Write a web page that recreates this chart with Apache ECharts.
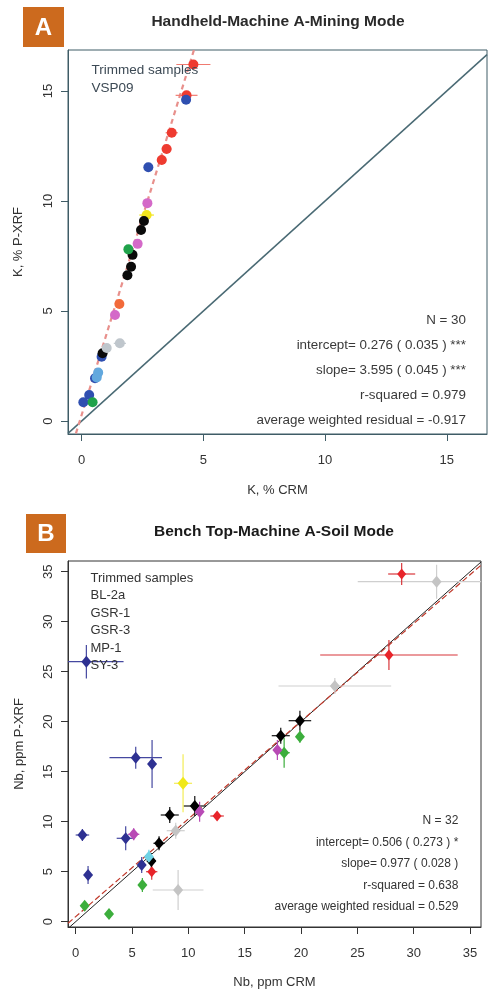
<!DOCTYPE html>
<html><head><meta charset="utf-8">
<script src="https://cdn.jsdelivr.net/npm/echarts@6/dist/echarts.min.js"></script>
<style>html,body{margin:0;padding:0;background:#fff}#c{width:489px;height:991px}</style>
</head><body><div id="c"></div>
<script>
// ---------- Panel A: K, % (x = CRM, y = P-XRF, xErr, yErr) ----------
const aRed = [[4.59,16.2,0.7,0.2],[4.31,14.8,0.45,0.2],[3.70,13.1,0.25,0.2],[3.49,12.36,0.2,0.2],[3.29,11.86,0.2,0.2]];
const aOrange = [[1.55,5.32,0.15,0.15]];
const aBlue = [[4.29,14.6,0.1,0.1],[2.74,11.53,0.1,0.1],[0.82,2.92,0.1,0.1],[0.55,1.94,0.1,0.1],[0.31,1.18,0.1,0.1],[0.07,0.85,0.1,0.1]];
const aMagenta = [[2.70,9.9,0.1,0.1],[2.30,8.05,0.1,0.1],[1.37,4.82,0.1,0.1]];
const aYellow = [[2.67,9.36,0.3,0.1]];
const aBlack = [[2.56,9.09,0.1,0.1],[2.44,8.68,0.1,0.1],[2.09,7.55,0.1,0.1],[2.03,7.01,0.1,0.1],[1.88,6.62,0.1,0.1],[0.86,3.08,0.1,0.1]];
const aGreen = [[1.92,7.8,0.1,0.1],[0.45,0.85,0.1,0.1]];
const aGray = [[1.57,3.53,0.25,0.1],[1.03,3.32,0.1,0.1]];
const aLightBlue = [[0.68,2.2,0.1,0.1],[0.62,1.98,0.1,0.1]];
const aStats = {intercept:0.276, slope:3.595};
const aStatText = ['N = 30','intercept= 0.276 ( 0.035 ) ***','slope= 3.595 ( 0.045 ) ***','r-squared = 0.979','average weighted residual = -0.917'];
const aLegend = ['Trimmed samples','VSP09'];
const aXTicks = [0,5,10,15];
const aYTicks = [0,5,10,15];

// ---------- Panel B: Nb, ppm (x = CRM, y = P-XRF, xErr, yErr) ----------
const bBlue = [[0.95,26.0,3.3,1.67],[5.33,16.4,2.33,1.1],[6.78,15.77,0.3,2.4],[0.6,8.67,0.6,0.6],[4.44,8.34,0.8,1.2],[5.86,5.67,0.3,0.8],[1.1,4.67,0.3,0.9]];
const bRed = [[28.93,34.77,1.2,1.1],[27.8,26.67,6.1,1.5],[12.55,10.57,0.6,0.3],[6.75,5.0,0.5,0.8]];
const bGray = [[32.03,34.0,7.0,1.7],[23.0,23.57,5.0,0.8],[8.88,9.1,0.8,0.8],[9.09,3.17,2.25,2.0]];
const bBlack = [[19.9,20.1,1.0,1.0],[18.2,18.6,0.8,0.8],[10.57,11.57,1.0,1.0],[8.35,10.67,0.8,0.8],[7.4,7.84,0.5,0.7],[6.72,6.07,0.4,0.8]];
const bGreen = [[19.9,18.5,0.3,0.6],[18.5,16.9,0.5,1.5],[5.92,3.67,0.3,0.7],[0.8,1.6,0.3,0.4],[2.96,0.77,0.3,0.4]];
const bMagenta = [[17.9,17.17,0.2,1.0],[11.0,11.0,0.3,1.0],[5.15,8.74,0.5,0.6]];
const bYellow = [[9.53,13.84,0.8,2.9]];
const bCyan = [[6.5,6.5,0.3,0.7]];
const bStats = {intercept:0.506, slope:0.977};
const bStatText = ['N = 32','intercept= 0.506 ( 0.273 ) *','slope= 0.977 ( 0.028 )','r-squared = 0.638','average weighted residual = 0.529'];
const bLegend = ['Trimmed samples','BL-2a','GSR-1','GSR-3','MP-1','SY-3'];
const bXTicks = [0,5,10,15,20,25,30,35];
const bYTicks = [0,5,10,15,20,25,30,35];

// ---------- styling ----------
const FONT = '"Liberation Sans", Arial, sans-serif';
const aRange = {xmin:-0.56, xmax:16.65, ymin:-0.59, ymax:16.86};
const bRange = {xmin:-0.68, xmax:35.97, ymin:-0.53, ymax:36.07};
const aAxisColor = '#3f5c66';
const bAxisColor = '#333';

function errRender(color, lw){
  return function(params, api){
    const x = api.value(0), y = api.value(1), xe = api.value(2), ye = api.value(3);
    const l = api.coord([x - xe, y]), r = api.coord([x + xe, y]);
    const t = api.coord([x, y + ye]), b = api.coord([x, y - ye]);
    return {type:'group', children:[
      {type:'line', shape:{x1:l[0],y1:l[1],x2:r[0],y2:r[1]}, style:{stroke:color, lineWidth:lw}},
      {type:'line', shape:{x1:t[0],y1:t[1],x2:b[0],y2:b[1]}, style:{stroke:color, lineWidth:lw}}
    ]};
  };
}

const series = [];
function addGroup(data, color, gi, barColor, symbol, size){
  series.push({type:'custom', xAxisIndex:gi, yAxisIndex:gi, clip:true, silent:true,
    renderItem: errRender(barColor || color, 1.2), encode:{x:0,y:1}, data:data, z:3});
  series.push({type:'scatter', xAxisIndex:gi, yAxisIndex:gi, silent:true, symbol:symbol, symbolSize:size,
    itemStyle:{color:color, opacity:1}, data:data.map(d => [d[0], d[1]]), z:4});
}
function addLines(rng, st, gi, idColor, idWidth, regColor, regWidth, dash){
  series.push({type:'line', xAxisIndex:gi, yAxisIndex:gi, clip:true, silent:true, symbol:'none', z:2,
    lineStyle:{color:idColor, width:idWidth},
    data:[[rng.xmin, rng.xmin],[rng.xmax, rng.xmax]]});
  series.push({type:'line', xAxisIndex:gi, yAxisIndex:gi, clip:true, silent:true, symbol:'none', z:2,
    lineStyle:{color:regColor, width:regWidth, type:dash},
    data:[[rng.xmin, st.intercept + st.slope*rng.xmin],[rng.xmax, st.intercept + st.slope*rng.xmax]]});
}

addLines(aRange, aStats, 0, '#4a6a74', 1.5, '#e8908c', 2.2, [5,4]);
addLines(bRange, bStats, 1, '#222', 1, '#c0392b', 1.2, [6,3]);

// A groups
addGroup(aRed, '#ee3b30', 0, '#f07a70', 'circle', 10);
addGroup(aOrange, '#f26a3a', 0, null, 'circle', 10);
addGroup(aBlue, '#2f4fb0', 0, null, 'circle', 10);
addGroup(aMagenta, '#d469c8', 0, null, 'circle', 10);
addGroup(aYellow, '#f2e51d', 0, null, 'circle', 10);
addGroup(aBlack, '#0a0a0a', 0, null, 'circle', 10);
addGroup(aGreen, '#1fa24a', 0, null, 'circle', 10);
addGroup(aGray, '#bfc6cc', 0, null, 'circle', 10);
addGroup(aLightBlue, '#62a8de', 0, null, 'circle', 10);

// B groups
addGroup(bGray, '#c4c4c4', 1, '#cfcfcf', 'diamond', [10,12]);
addGroup(bRed, '#e8242a', 1, '#d8353a', 'diamond', [9,11]);
addGroup(bBlue, '#2e3192', 1, '#4548a0', 'diamond', [10,12]);
addGroup(bBlack, '#000', 1, '#111', 'diamond', [10,12]);
addGroup(bGreen, '#3cae3c', 1, null, 'diamond', [10,12]);
addGroup(bMagenta, '#b84ab5', 1, null, 'diamond', [10,12]);
addGroup(bYellow, '#f0e818', 1, '#f3ec55', 'diamond', [11,13]);
addGroup(bCyan, '#6fd3e6', 1, null, 'diamond', [10,12]);

function xAx(gi, rng, ticks, color, name, gap){
  return {type:'value', gridIndex:gi, min:rng.xmin, max:rng.xmax,
    axisLine:{show:true, onZero:false, lineStyle:{color:color, width:1}},
    axisTick:{show:true, length:7, customValues:ticks, lineStyle:{color:color}},
    axisLabel:{customValues:ticks, margin:20, fontSize:13, color:'#333', fontFamily:FONT},
    splitLine:{show:false},
    name:name, nameLocation:'middle', nameGap:gap,
    nameTextStyle:{fontSize:13, color:'#333', fontFamily:FONT}};
}
function yAx(gi, rng, ticks, color, name, gap){
  return {type:'value', gridIndex:gi, min:rng.ymin, max:rng.ymax,
    axisLine:{show:true, onZero:false, lineStyle:{color:color, width:1}},
    axisTick:{show:true, length:7, customValues:ticks, lineStyle:{color:color}},
    axisLabel:{customValues:ticks, margin:13, rotate:90, fontSize:13, color:'#333', fontFamily:FONT},
    splitLine:{show:false},
    name:name, nameLocation:'middle', nameGap:gap,
    nameTextStyle:{fontSize:13, color:'#333', fontFamily:FONT}};
}

const graphic = [];
function badge(x, y, w, h, letter){
  graphic.push({type:'rect', shape:{x:x, y:y, width:w, height:h}, style:{fill:'#cc6a1e'}, z:10});
  graphic.push({type:'text', style:{text:letter, x:x + w/2, y:y + h/2 + 1, textAlign:'center', textVerticalAlign:'middle',
    font:'bold 24px ' + FONT, fill:'#fff'}, z:11});
}
function txt(t, x, y, align, font, fill){
  graphic.push({type:'text', style:{text:t, x:x, y:y, textAlign:align, textVerticalAlign:'middle', font:font, fill:fill}, z:12});
}
badge(23, 7, 41, 40, 'A');
badge(26, 514, 40, 39, 'B');
txt('Handheld-Machine A-Mining Mode', 278, 22, 'center', 'bold 15.5px ' + FONT, '#2a2a2a');
txt('Bench Top-Machine A-Soil Mode', 274, 532, 'center', 'bold 15.5px ' + FONT, '#1a1a1a');
aLegend.forEach((t, i) => txt(t, 91.5, 70.7 + i*17.6, 'left', '13.5px ' + FONT, '#3d4a55'));
bLegend.forEach((t, i) => txt(t, 90.5, 578.3 + i*17.5, 'left', '13px ' + FONT, '#333'));
aStatText.forEach((t, i) => txt(t, 466, 320 + i*25, 'right', '13.4px ' + FONT, '#3a3a3a'));
bStatText.forEach((t, i) => txt(t, 458.3, 821 + i*21.5, 'right', '12px ' + FONT, '#333'));

const chart = echarts.init(document.getElementById('c'), null, {renderer:'canvas'});
chart.setOption({
  backgroundColor:'#fff',
  animation:false,
  grid:[
    {left:68, top:50, right:2, bottom:557, show:true, borderColor:aAxisColor, borderWidth:1, backgroundColor:'#fff'},
    {left:68, top:561, right:8, bottom:64, show:true, borderColor:bAxisColor, borderWidth:1, backgroundColor:'#fff'}
  ],
  xAxis:[xAx(0, aRange, aXTicks, aAxisColor, 'K, % CRM', 50), xAx(1, bRange, bXTicks, bAxisColor, 'Nb, ppm CRM', 49)],
  yAxis:[yAx(0, aRange, aYTicks, aAxisColor, 'K, % P-XRF', 43), yAx(1, bRange, bYTicks, bAxisColor, 'Nb, ppm P-XRF', 42)],
  series:series,
  graphic:graphic
});
</script>
</body></html>
